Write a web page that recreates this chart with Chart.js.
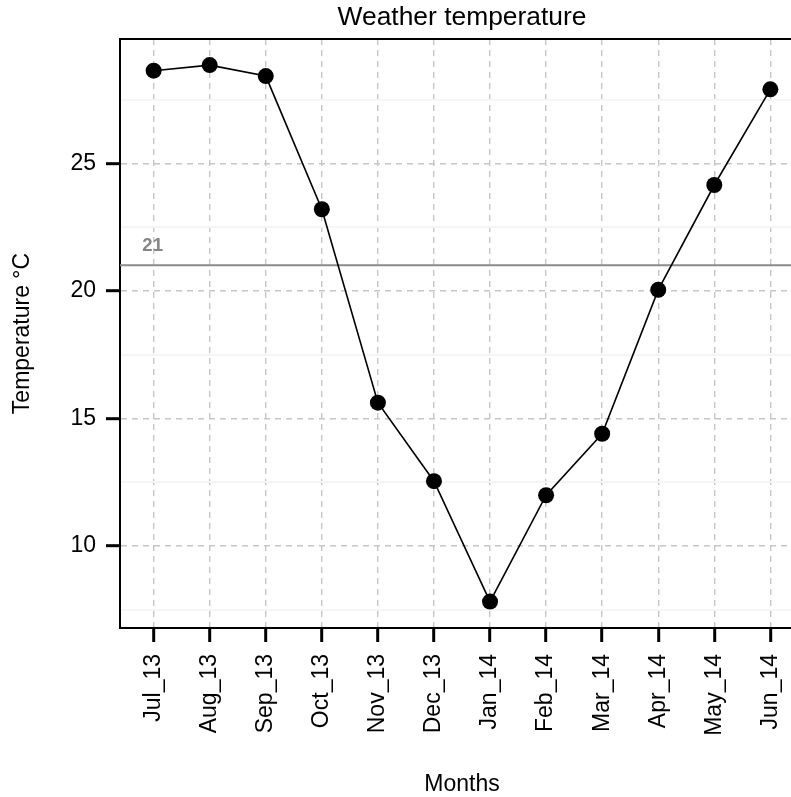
<!DOCTYPE html>
<html>
<head>
<meta charset="utf-8">
<script src="https://cdn.jsdelivr.net/npm/chart.js@4"></script>
<style>
  html, body { margin: 0; padding: 0; background: #fff; overflow: hidden; }
  canvas { display: block; }
</style>
</head>
<body>
<canvas id="chart" width="804" height="797"></canvas>
<script>
// Monthly mean temperature, July 2013 – June 2014
const months = ['Jul_13', 'Aug_13', 'Sep_13', 'Oct_13', 'Nov_13', 'Dec_13',
                'Jan_14', 'Feb_14', 'Mar_14', 'Apr_14', 'May_14', 'Jun_14'];
const temps = [28.63, 28.85, 28.42, 23.20, 15.62, 12.54, 7.82, 11.99, 14.40, 20.04, 24.15, 27.90];

// Axis ticks
const yTicks = [10, 15, 20, 25];
const yMinorTicks = [7.5, 12.5, 17.5, 22.5, 27.5];

// Reference temperature
const refValue = 21;

const FONT = '"Liberation Sans", Arial, Helvetica, sans-serif';
const GRID = '#c6c6c6';
const Y_MIN = 6.786, Y_MAX = 29.873;

// Horizontal reference line with its value label
const refLine = {
  id: 'refLine',
  beforeDatasetsDraw(chart) {
    const { ctx, chartArea, scales } = chart;
    const y = scales.y.getPixelForValue(refValue);
    const x = scales.x.getPixelForValue(0);
    ctx.save();
    ctx.strokeStyle = '#8a8a8a';
    ctx.lineWidth = 2;
    ctx.beginPath();
    ctx.moveTo(chartArea.left, y);
    ctx.lineTo(chartArea.right, y);
    ctx.stroke();
    ctx.fillStyle = '#858585';
    ctx.font = 'bold 18.5px ' + FONT;
    ctx.textAlign = 'center';
    ctx.textBaseline = 'alphabetic';
    ctx.fillText(String(refValue), x - 1, y - 14.5);
    ctx.restore();
  }
};

// Keep the plot panel flush with the canvas edges
const noSidePadding = s => { s.paddingLeft = 0; s.paddingRight = 0; };

new Chart(document.getElementById('chart'), {
  type: 'line',
  data: {
    datasets: [{
      data: temps.map((t, i) => ({ x: i, y: t })),
      borderColor: '#000',
      borderWidth: 1.6,
      pointRadius: 8,
      pointHoverRadius: 8,
      pointBackgroundColor: '#000',
      pointBorderWidth: 0,
      tension: 0,
      clip: false
    }]
  },
  options: {
    responsive: false,
    animation: false,
    events: [],
    layout: { padding: 0, autoPadding: false },
    plugins: {
      legend: { display: false },
      tooltip: { enabled: false },
      title: { display: false }
    },
    scales: {
      x: {
        type: 'linear',
        position: 'bottom',
        min: -0.6,
        max: 11.6,
        afterBuildTicks: s => { s.ticks = months.map((_, i) => ({ value: i })); },
        afterFit: s => { s.height = 169; noSidePadding(s); },
        ticks: {
          autoSkip: false,
          minRotation: 90,
          maxRotation: 90,
          padding: 12,
          color: '#000',
          font: { family: FONT, size: 23 },
          callback: v => months[v]
        },
        grid: { color: GRID, lineWidth: 1.4, tickColor: '#000', tickWidth: 3, tickLength: 14 },
        border: { display: true, color: '#000', width: 2, dash: [6, 5] },
        title: {
          display: true,
          text: 'Months',
          color: '#000',
          font: { family: FONT, size: 23, lineHeight: 1 },
          padding: { top: 0, bottom: 0.5 }
        }
      },
      xTop: {
        type: 'linear',
        position: 'top',
        min: 0,
        max: 1,
        display: true,
        afterFit: s => { s.height = 39; noSidePadding(s); },
        ticks: { display: false },
        grid: { display: false, drawTicks: false },
        border: { display: true, color: '#000', width: 2 },
        title: {
          display: true,
          text: 'Weather temperature',
          color: '#000',
          font: { family: FONT, size: 26.4, lineHeight: 1.2 },
          padding: { top: 1.7, bottom: 0 }
        }
      },
      y: {
        type: 'linear',
        position: 'left',
        min: Y_MIN,
        max: Y_MAX,
        afterBuildTicks: s => { s.ticks = yTicks.map(v => ({ value: v })); },
        afterFit: s => { s.width = 120; },
        ticks: { padding: 10, color: '#000', font: { family: FONT, size: 23 } },
        grid: { color: GRID, lineWidth: 1.4, tickColor: '#000', tickWidth: 3, tickLength: 14 },
        border: { display: true, color: '#000', width: 2, dash: [6, 5] },
        title: {
          display: true,
          text: 'Temperature °C',
          color: '#000',
          font: { family: FONT, size: 23, lineHeight: 1.2 },
          padding: { top: 9.2, bottom: 0 }
        }
      },
      yMinor: {
        type: 'linear',
        position: 'left',
        min: Y_MIN,
        max: Y_MAX,
        display: true,
        afterBuildTicks: s => { s.ticks = yMinorTicks.map(v => ({ value: v })); },
        afterFit: s => { s.width = 0; },
        ticks: { display: false },
        grid: { color: '#f5f5f5', lineWidth: 2, drawTicks: false },
        border: { display: false }
      }
    }
  },
  plugins: [refLine]
});
</script>
</body>
</html>
